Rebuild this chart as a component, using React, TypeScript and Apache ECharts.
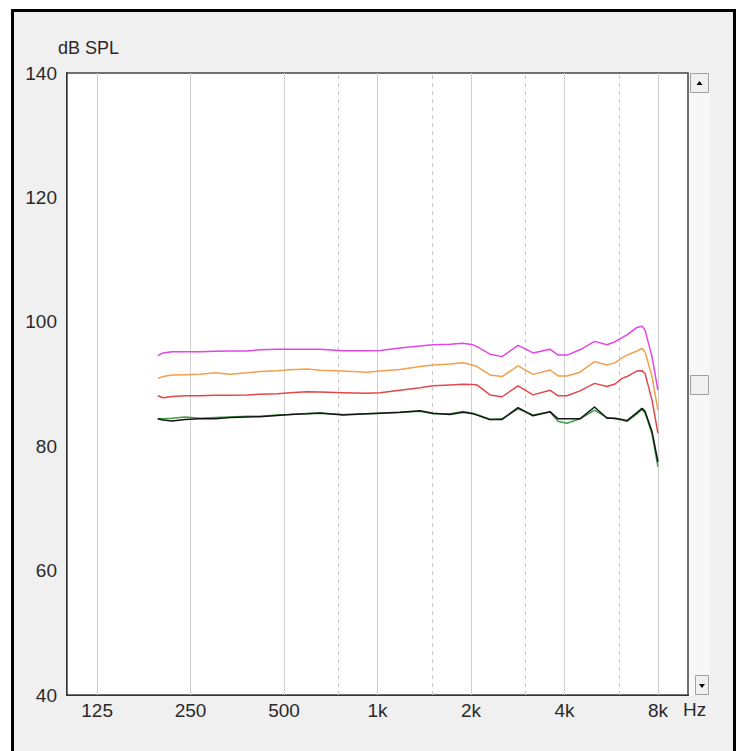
import React, { useEffect, useRef } from "react";
import * as echarts from "echarts";

const freqs = [196, 204, 218, 240, 268, 300, 335, 380, 418, 475, 523, 593, 653, 774, 925, 1019, 1181, 1371, 1509, 1712, 1886, 2030, 2092, 2303, 2518, 2835, 3169, 3594, 3814, 4076, 4489, 5000, 5484, 5820, 6131, 6362, 6850, 7110, 7268, 7658, 8000];

const magentaVals = [94.55, 95.0, 95.2, 95.2, 95.2, 95.25, 95.3, 95.3, 95.5, 95.6, 95.6, 95.6, 95.6, 95.35, 95.35, 95.4, 95.8, 96.1, 96.3, 96.4, 96.55, 96.3, 96.0, 94.8, 94.4, 96.2, 95.0, 95.6, 94.65, 94.65, 95.5, 96.85, 96.3, 96.8, 97.45, 97.9, 99.1, 99.3, 98.7, 94.4, 89.0];
const orangeVals = [90.9, 91.2, 91.45, 91.5, 91.55, 91.8, 91.55, 91.8, 92.0, 92.15, 92.3, 92.4, 92.2, 92.1, 91.9, 92.1, 92.35, 92.8, 93.05, 93.2, 93.4, 93.0, 92.8, 91.45, 91.2, 92.9, 91.55, 92.25, 91.3, 91.3, 91.9, 93.6, 93.05, 93.4, 94.2, 94.65, 95.3, 95.7, 95.2, 91.2, 85.8];
const redVals = [88.1, 87.8, 88.0, 88.1, 88.1, 88.2, 88.2, 88.25, 88.35, 88.45, 88.6, 88.75, 88.7, 88.6, 88.5, 88.6, 89.0, 89.4, 89.7, 89.85, 89.95, 89.9, 89.85, 88.25, 87.95, 89.7, 88.25, 89.0, 88.1, 88.1, 88.9, 90.1, 89.6, 90.0, 90.9, 91.2, 92.1, 92.15, 91.7, 87.4, 82.1];
const greenVals = [84.4, 84.4, 84.5, 84.7, 84.5, 84.6, 84.7, 84.8, 84.8, 85.0, 85.1, 85.25, 85.3, 85.1, 85.2, 85.3, 85.4, 85.6, 85.2, 85.2, 85.6, 85.3, 85.1, 84.3, 84.4, 86.0, 85.0, 85.5, 84.0, 83.7, 84.4, 85.8, 84.6, 84.4, 84.2, 84.0, 85.2, 85.9, 85.4, 82.0, 76.7];
const blackVals = [84.4, 84.2, 84.05, 84.3, 84.4, 84.4, 84.6, 84.7, 84.75, 84.95, 85.1, 85.2, 85.35, 85.0, 85.2, 85.3, 85.45, 85.7, 85.3, 85.1, 85.45, 85.2, 85.0, 84.3, 84.3, 86.2, 84.9, 85.55, 84.4, 84.4, 84.4, 86.3, 84.5, 84.5, 84.3, 84.1, 85.4, 86.1, 85.6, 82.35, 77.5];

const majorFreqs = [125, 250, 500, 1000, 2000, 4000, 8000];
const majorLabels = ["125", "250", "500", "1k", "2k", "4k", "8k"];
const minorFreqs = [750, 1500, 3000, 6000];

const FONT = "'Liberation Sans', Arial, sans-serif";
const TEXT = "#2a2a2a";

export default function App() {
  const ref = useRef<HTMLDivElement>(null);
  useEffect(() => {
    if (!ref.current) return;
    const chart = echarts.init(ref.current, null, { renderer: "svg" });
    const mk = (vals: number[]) => freqs.map((f, i) => [f, vals[i]]);
    const lineSeries = (name: string, vals: number[], color: string) => ({
      name,
      type: "line",
      data: mk(vals),
      showSymbol: false,
      symbol: "none",
      lineStyle: { color, width: 1.5 },
      itemStyle: { color },
      z: 5,
    });
    const markData: any[] = [];
    majorFreqs.forEach((f, i) => {
      markData.push({
        xAxis: f,
        lineStyle: { color: "#cfcfcf", width: 1, type: "solid" },
        label: {
          show: true,
          position: "start",
          formatter: majorLabels[i],
          color: TEXT,
          fontSize: 19,
          fontFamily: FONT,
          distance: 6,
        },
      });
    });
    minorFreqs.forEach((f) => {
      markData.push({
        xAxis: f,
        lineStyle: { color: "#c8c8c8", width: 1, type: [4, 4] },
        label: { show: false },
      });
    });

    const option: any = {
      animation: false,
      backgroundColor: "#ffffff",
      grid: {
        left: 67,
        top: 73,
        right: 53,
        bottom: 56,
        show: true,
        backgroundColor: "#ffffff",
        borderColor: "#444",
        borderWidth: 1.5,
        z: 2,
      },
      xAxis: {
        type: "log",
        logBase: 10,
        min: 100,
        max: 10000,
        axisLine: { show: true, lineStyle: { color: "#000", width: 2 } },
        axisTick: { show: false },
        axisLabel: { show: false },
        splitLine: { show: false },
        minorSplitLine: { show: false },
      },
      yAxis: {
        type: "value",
        min: 40,
        max: 140,
        interval: 10,
        axisLine: { show: true, lineStyle: { color: "#000", width: 2 } },
        axisTick: { show: false },
        axisLabel: {
          margin: 10,
          color: TEXT,
          fontSize: 19,
          fontFamily: FONT,
          formatter: (v: number) => (v % 20 === 0 ? String(v) : ""),
        },
        splitLine: { show: true, lineStyle: { color: "#cfcfcf", width: 1 } },
      },
      graphic: [
        {
          type: "rect",
          z: -10,
          silent: true,
          shape: { x: 12.5, y: 10.5, width: 722, height: 780 },
          style: { fill: "#f0f0f0", stroke: "#000", lineWidth: 3 },
        },
        {
          type: "text",
          left: 58,
          top: 39,
          silent: true,
          style: { text: "dB SPL", fill: TEXT, fontSize: 18, fontFamily: FONT },
        },
        {
          type: "text",
          left: 683,
          top: 700,
          silent: true,
          style: { text: "Hz", fill: TEXT, fontSize: 19, fontFamily: FONT },
        },
        {
          type: "rect",
          silent: true,
          shape: { x: 689, y: 73, width: 21, height: 622 },
          style: { fill: "#f7f7f7", stroke: "none" },
        },
        {
          type: "rect",
          silent: true,
          shape: { x: 690.5, y: 73.5, width: 18, height: 19 },
          style: { fill: "#f0f0f0", stroke: "#a0a0a0", lineWidth: 1 },
        },
        {
          type: "polygon",
          silent: true,
          shape: { points: [[696.5, 85], [702.5, 85], [699.5, 81]] },
          style: { fill: "#000" },
        },
        {
          type: "rect",
          silent: true,
          shape: { x: 690.5, y: 375.5, width: 18, height: 19 },
          style: { fill: "#f0f0f0", stroke: "#a0a0a0", lineWidth: 1 },
        },
        {
          type: "rect",
          silent: true,
          shape: { x: 695.5, y: 675.5, width: 13, height: 19 },
          style: { fill: "#f0f0f0", stroke: "#a0a0a0", lineWidth: 1 },
        },
        {
          type: "polygon",
          silent: true,
          shape: { points: [[699, 684], [705, 684], [702, 688]] },
          style: { fill: "#000" },
        },
      ],
      series: [
        {
          type: "line",
          data: [],
          silent: true,
          z: 3,
          markLine: {
            silent: true,
            symbol: ["none", "none"],
            animation: false,
            data: markData,
          },
        },
        lineSeries("magenta", magentaVals, "#e245e6"),
        lineSeries("orange", orangeVals, "#f2a04e"),
        lineSeries("red", redVals, "#e2474a"),
        lineSeries("green", greenVals, "#3f9f43"),
        lineSeries("black", blackVals, "#151515"),
      ],
    };
    chart.setOption(option);
    return () => chart.dispose();
  }, []);
  return (
    <div
      ref={ref}
      style={{ position: "fixed", left: 0, top: 0, width: 741, height: 751 }}
    />
  );
}
